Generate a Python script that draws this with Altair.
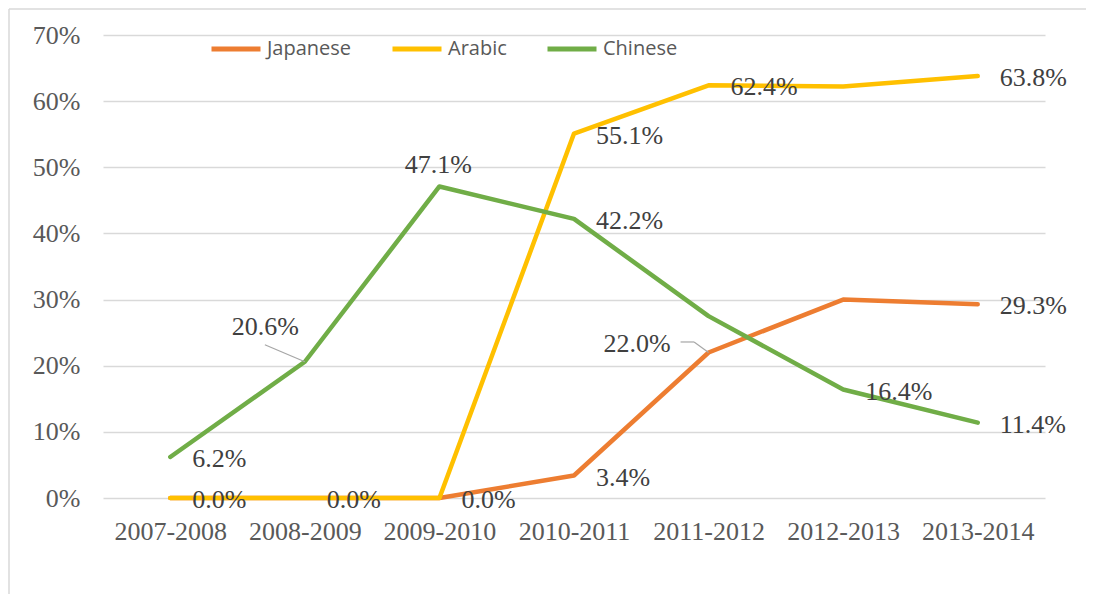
import altair as alt
import pandas as pd

categories = ["2007-2008", "2008-2009", "2009-2010", "2010-2011", "2011-2012", "2012-2013", "2013-2014"]
series_names = ["Japanese", "Arabic", "Chinese"]
series_colors = ["#ED7D31", "#FFC000", "#70AD47"]
japanese = [0.0, 0.0, 0.0, 3.4, 22.0, 30.0, 29.3]
arabic = [0.0, 0.0, 0.0, 55.1, 62.4, 62.2, 63.8]
chinese = [6.2, 20.6, 47.1, 42.2, 27.5, 16.4, 11.4]

# which points carry a data label, and where it sits relative to the point
label_series = ["Chinese", "Chinese", "Chinese", "Chinese", "Chinese", "Chinese",
                "Arabic", "Arabic", "Arabic", "Arabic", "Arabic", "Arabic",
                "Japanese", "Japanese", "Japanese"]
label_index = [0, 1, 2, 3, 5, 6,
               0, 1, 2, 3, 4, 6,
               3, 4, 6]
label_pos = ["right", "leftup", "above", "right", "right", "right",
             "right", "right", "right", "right", "right", "right",
             "right", "left", "right"]

W, H = 942, 463
PAD = {"left": 95, "top": 27, "right": 41, "bottom": 96}

values = {"Japanese": japanese, "Arabic": arabic, "Chinese": chinese}
rows = []
for s in series_names:
    for i, c in enumerate(categories):
        rows.append({"series": s, "period": c, "value": values[s][i] / 100.0, "order": series_names.index(s)})
df = pd.DataFrame(rows)

lrows = []
for s, i, p in zip(label_series, label_index, label_pos):
    lrows.append({"series": s, "period": categories[i], "value": values[s][i] / 100.0, "pos": p})
ldf = pd.DataFrame(lrows)

xs = alt.X("period:N", sort=categories, scale=alt.Scale(type="point", padding=0.5),
           axis=alt.Axis(title=None, labelAngle=0, domain=False, ticks=False, grid=False,
                         labelFont="Liberation Serif", labelFontSize=26, labelColor="#595959",
                         labelPadding=20))
ys = alt.Y("value:Q", scale=alt.Scale(domain=[0, 0.7], nice=False),
           axis=alt.Axis(title=None, format=".0%", values=[0, 0.1, 0.2, 0.3, 0.4, 0.5, 0.6, 0.7],
                         domain=False, ticks=False, grid=True, gridColor="#D9D9D9", gridWidth=1.3,
                         labelFont="Liberation Serif", labelFontSize=26, labelColor="#595959",
                         labelPadding=23))

color = alt.Color("series:N", scale=alt.Scale(domain=series_names, range=series_colors),
                  legend=alt.Legend(title=None, orient="none", direction="horizontal",
                                    legendX=106, legendY=-13, symbolType="stroke", symbolSize=2401,
                                    symbolStrokeWidth=5, labelFont="Open Sans", labelFontSize=20,
                                    labelColor="#595959", columnPadding=30, labelOffset=4))

lines = alt.Chart(df).mark_line(strokeWidth=4.5, strokeCap="round", strokeJoin="round").encode(
    x=xs, y=ys, color=color, detail="series:N", order="order:Q")

base_l = alt.Chart(ldf)
txt_common = dict(font="Liberation Serif", fontSize=26, color="#404040")

right_lbl = base_l.transform_filter(alt.datum.pos == "right").mark_text(
    align="left", baseline="middle", dx=22, dy=2, **txt_common).encode(
    x=alt.X("period:N", sort=categories), y="value:Q", text=alt.Text("value:Q", format=".1%"))
above_lbl = base_l.transform_filter(alt.datum.pos == "above").mark_text(
    align="center", baseline="middle", dx=-1, dy=-21, **txt_common).encode(
    x=alt.X("period:N", sort=categories), y="value:Q", text=alt.Text("value:Q", format=".1%"))
leftup_lbl = base_l.transform_filter(alt.datum.pos == "leftup").mark_text(
    align="right", baseline="middle", dx=-6, dy=-35, **txt_common).encode(
    x=alt.X("period:N", sort=categories), y="value:Q", text=alt.Text("value:Q", format=".1%"))
left_lbl = base_l.transform_filter(alt.datum.pos == "left").mark_text(
    align="right", baseline="middle", dx=-38, dy=-8.5, **txt_common).encode(
    x=alt.X("period:N", sort=categories), y="value:Q", text=alt.Text("value:Q", format=".1%"))

lead_enc = dict(x=alt.X("period:N", sort=categories), y="value:Q",
                x2="period:N", y2="value:Q")
lead1 = base_l.transform_filter(alt.datum.pos == "leftup").mark_rule(
    color="#A6A6A6", strokeWidth=1.2, x2Offset=-40, y2Offset=-17).encode(**lead_enc)
lead2 = base_l.transform_filter(alt.datum.pos == "left").mark_rule(
    color="#A6A6A6", strokeWidth=1.2, x2Offset=-14.5, y2Offset=-10.5).encode(**lead_enc)
lead3 = base_l.transform_filter(alt.datum.pos == "left").mark_rule(
    color="#A6A6A6", strokeWidth=1.2, xOffset=-14.5, yOffset=-10.5,
    x2Offset=-28, y2Offset=-10.5).encode(**lead_enc)

frame_left = alt.Chart(pd.DataFrame({"a": [0]})).mark_rule(color="#D9D9D9", strokeWidth=1.5).encode(
    x=alt.value(-PAD["left"] + 1), y=alt.value(-PAD["top"] + 1), y2=alt.value(H + PAD["bottom"]))
frame_top = alt.Chart(pd.DataFrame({"a": [0]})).mark_rule(color="#D9D9D9", strokeWidth=1.5).encode(
    x=alt.value(-PAD["left"] + 1), x2=alt.value(W + PAD["right"]), y=alt.value(-PAD["top"] + 1))

chart = alt.layer(frame_left, frame_top, lines, lead1, lead2, lead3,
                  right_lbl, above_lbl, leftup_lbl, left_lbl).properties(
    width=W, height=H, padding=PAD,
    autosize=alt.AutoSizeParams(type="none"),
    background="white",
).configure_view(stroke=None)

chart.save("out.html", embed_options={"renderer": "svg", "actions": False})
